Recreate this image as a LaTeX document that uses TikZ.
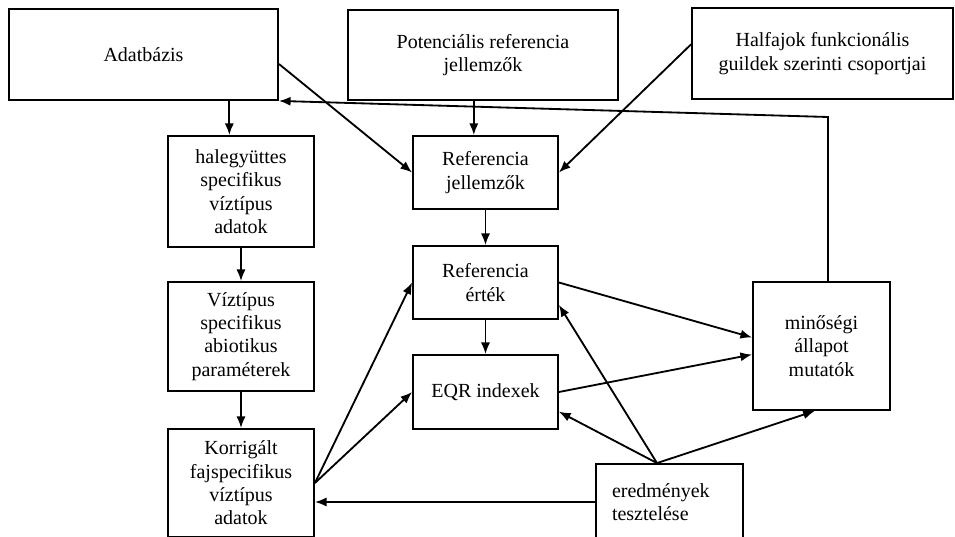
\documentclass[tikz,border=0pt]{standalone}
\usepackage{fontspec}
\setmainfont{Liberation Serif}
\usetikzlibrary{arrows.meta}

\begin{document}
\begin{tikzpicture}[x=0.6pt,y=-0.6pt,
    blk/.style={draw, line width=1.1pt, align=center, inner sep=2pt, font=\fontsize{12}{14}\selectfont},
    arr/.style={line width=1.1pt, -{Latex[length=7pt,width=5.5pt]}}]
   \useasboundingbox (0,0) rectangle (955,537);
   \clip (0,0) rectangle (955,537);

   % top row
   \node[blk, minimum width=161.4pt, minimum height=54.6pt] (adat) at (143.5,54.5) {Adatbázis};
   \node[blk, minimum width=162pt, minimum height=54pt] (pot) at (483,55) {Potenciális referencia\\jellemzők};
   \node[blk, minimum width=156.6pt, minimum height=54.6pt] (half) at (822.5,53.5) {Halfajok funkcionális\\guildek szerinti csoportjai};

   % left column
   \node[blk, minimum width=87.6pt, minimum height=66.6pt] (haleg) at (241,191.5) {halegyüttes\\specifikus\\víztípus\\adatok};
   \node[blk, minimum width=87.6pt, minimum height=65.4pt] (viz) at (241,336.5) {Víztípus\\specifikus\\abiotikus\\paraméterek};
   \node[blk, minimum width=87.6pt, minimum height=64.8pt] (korr) at (241,483) {Korrigált\\fajspecifikus\\víztípus\\adatok};

   % middle column
   \node[blk, minimum width=87pt, minimum height=43.8pt] (refj) at (485.5,172.5) {Referencia\\jellemzők};
   \node[blk, minimum width=87pt, minimum height=43.8pt] (refe) at (485.5,282.5) {Referencia\\érték};
   \node[blk, minimum width=87pt, minimum height=44.4pt] (eqr) at (485.5,392) {EQR indexek};

   \node[blk, minimum width=82.2pt, minimum height=76.8pt] (min) at (821.5,346) {minőségi\\állapot\\mutatók};
   \node[blk, align=left, text width=69pt, inner xsep=9.6pt, minimum height=45.6pt] (ered) at (669.5,502) {eredmények\\tesztelése};

   % connectors
   \coordinate (hn) at ([xshift=-7pt]haleg.north);
   \draw[arr] (hn |- adat.south) -- (hn);
   \draw[arr] (adat.-4) -- (refj.west);
   \coordinate (rn) at ([xshift=-7pt]refj.north);
   \draw[arr] (rn |- pot.south) -- (rn);
   \draw[arr] (half.176) -- (refj.east);

   \draw[arr] (haleg) -- (viz);
   \draw[arr] (viz) -- (korr);
   \draw[arr] (refj) -- (refe);
   \draw[arr] (refe) -- (eqr);

   \draw[arr] (korr.east) -- (refe.west);
   \draw[arr] (korr.east) -- (eqr.west);
   \draw[arr] (refe.east) -- (min.173);
   \draw[arr] (eqr.east) -- (min.187);

   \coordinate (et) at ([xshift=-7.5pt]ered.north);
   \draw[arr] (et) -- (refe.-17);
   \draw[arr] (et) -- (eqr.-15);
   \draw[arr] (et) -- ([xshift=-4pt]min.south);
   \draw[arr] (ered.west) -- (ered.west -| korr.east);

   % feedback
   \coordinate (fb) at (828,117);
   \draw[arr] (min.north -| fb) -- (fb) -- (adat.south east);
\end{tikzpicture}
\end{document}
